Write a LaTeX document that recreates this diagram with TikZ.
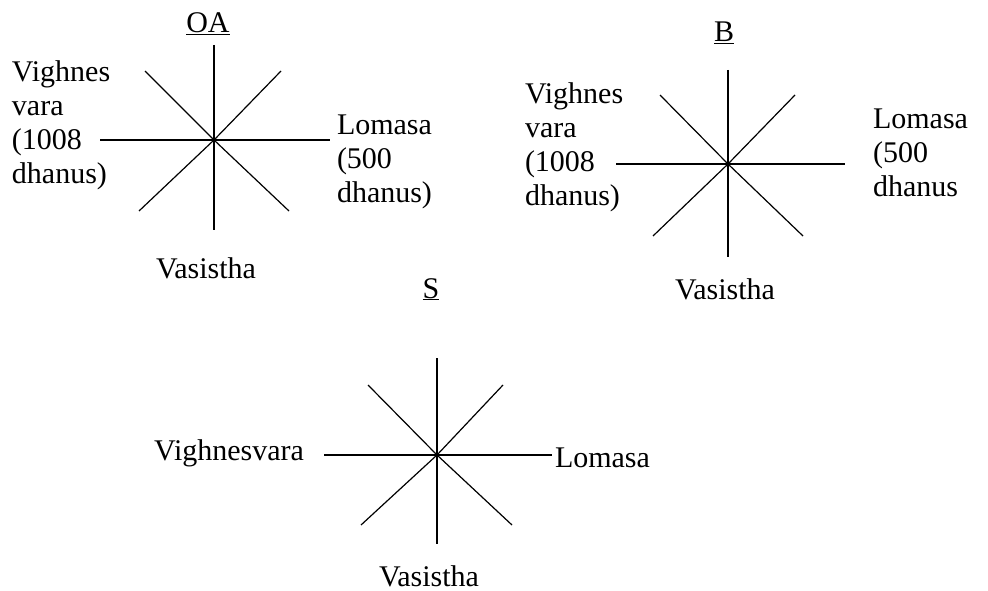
\documentclass[tikz,border=0pt]{standalone}
\usepackage{fontspec}
\setmainfont{Liberation Serif}
\tikzset{
  lbl/.style={font=\fontsize{30}{34}\selectfont\rmfamily, inner sep=0pt, outer sep=0pt},
  ray/.style={draw=black, line width=1.2pt},
}
\newcommand{\lblstack}[1]{\begin{tabular}[t]{@{}l@{}}#1\end{tabular}}
\begin{document}
\begin{tikzpicture}[x=1pt,y=-1pt]
\useasboundingbox (0,0) rectangle (988,591);
% ---------- OA ----------
\coordinate (oa) at (214,140);
\coordinate (oaN) at (214,45);
\coordinate (oaS) at (214,230);
\coordinate (oaW) at (100,140);
\coordinate (oaE) at (330,140);
\coordinate (oaNW) at (145,71);
\coordinate (oaNE) at (281,71);
\coordinate (oaSW) at (139,211);
\coordinate (oaSE) at (289,211);
\draw[ray] (oaN) -- (oa) -- (oaS);
\draw[ray] (oaW) -- (oa) -- (oaE);
\draw[ray] (oaNW) -- (oa) -- (oaSE);
\draw[ray] (oaNE) -- (oa) -- (oaSW);
\node[lbl, anchor=base] (oaT) at (208,33) {\underline{OA}};
\node[lbl, anchor=base west] (oaL) at (12,82) {\lblstack{Vighnes\\vara\\(1008\\dhanus)}};
\node[lbl, anchor=base west] (oaR) at (337,135) {\lblstack{Lomasa\\(500\\dhanus)}};
\node[lbl, anchor=base] (oaV) at (206,278) {Vasistha};
% ---------- B ----------
\coordinate (b) at (728,164);
\coordinate (bN) at (728,70);
\coordinate (bS) at (728,257);
\coordinate (bW) at (616,164);
\coordinate (bE) at (845,164);
\coordinate (bNW) at (660,95);
\coordinate (bNE) at (795,95);
\coordinate (bSW) at (653,236);
\coordinate (bSE) at (803,236);
\draw[ray] (bN) -- (b) -- (bS);
\draw[ray] (bW) -- (b) -- (bE);
\draw[ray] (bNW) -- (b) -- (bSE);
\draw[ray] (bNE) -- (b) -- (bSW);
\node[lbl, anchor=base] (bT) at (724,42) {\underline{B}};
\node[lbl, anchor=base west] (bL) at (525,104) {\lblstack{Vighnes\\vara\\(1008\\dhanus)}};
\node[lbl, anchor=base west] (bR) at (873,129) {\lblstack{Lomasa\\(500\\dhanus}};
\node[lbl, anchor=base] (bV) at (725,299) {Vasistha};
% ---------- S ----------
\coordinate (s) at (437,455);
\coordinate (sN) at (437,358);
\coordinate (sS) at (437,544);
\coordinate (sW) at (324,455);
\coordinate (sE) at (552,455);
\coordinate (sNW) at (368,385);
\coordinate (sNE) at (503,385);
\coordinate (sSW) at (361,525);
\coordinate (sSE) at (512,525);
\draw[ray] (sN) -- (s) -- (sS);
\draw[ray] (sW) -- (s) -- (sE);
\draw[ray] (sNW) -- (s) -- (sSE);
\draw[ray] (sNE) -- (s) -- (sSW);
\node[lbl, anchor=base] (sT) at (431,298) {\underline{S}};
\node[lbl, anchor=base east] (sL) at (304,460) {Vighnesvara};
\node[lbl, anchor=base west] (sR) at (555,467) {Lomasa};
\node[lbl, anchor=base] (sV) at (429,586) {Vasistha};
\end{tikzpicture}
\end{document}
